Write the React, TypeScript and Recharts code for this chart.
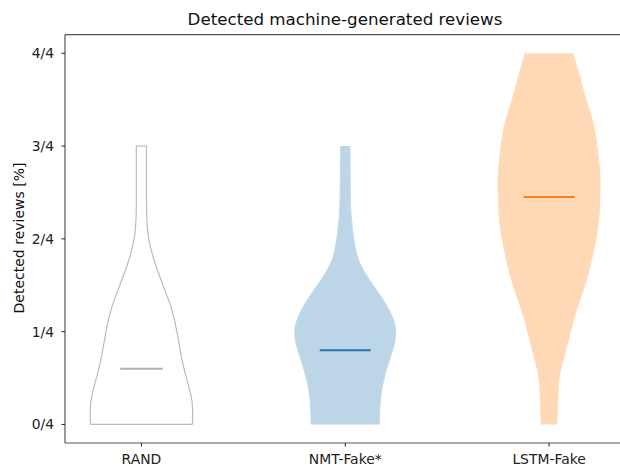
import {
  Area,
  ComposedChart,
  ReferenceLine,
  XAxis,
  YAxis,
} from "recharts";

// Violin categories and their x positions
const CATEGORIES = ["RAND", "NMT-Fake*", "LSTM-Fake"];
const POSITIONS = [1, 2, 3];

// y levels (in quarters) where the violin half-widths were read
const LEVELS = [0, 0.25, 0.5, 0.75, 1, 1.25, 1.5, 1.75, 2, 2.25, 2.5, 2.75, 3, 3.25, 3.5, 3.75, 4];

// half-width of each violin at every level, in x-axis units
const RAND_HALF = [0.25, 0.248, 0.221, 0.194, 0.174, 0.147, 0.106, 0.065, 0.036, 0.026, 0.025, 0.025, 0.025];
const NMT_HALF = [0.167, 0.172, 0.191, 0.225, 0.248, 0.211, 0.137, 0.069, 0.042, 0.029, 0.025, 0.024, 0.023];
const LSTM_HALF = [
  0.038, 0.043, 0.049, 0.076, 0.105, 0.137, 0.176, 0.206, 0.23, 0.245, 0.25, 0.248, 0.235, 0.216, 0.181,
  0.15, 0.117,
];

const MEDIANS = [0.6, 0.8, 2.45];
const MEDIAN_HALF = [0.104, 0.125, 0.125];

const Y_TICKS = [0, 1, 2, 3, 4];

const FONT = "'DejaVu Sans', sans-serif";
const AXIS = "#555";

const violin = (half: number[], pos: number) =>
  half.map((h, i) => ({ v: LEVELS[i], r: [pos - h, pos + h] }));

const randData = violin(RAND_HALF, POSITIONS[0]);
const nmtData = violin(NMT_HALF, POSITIONS[1]);
const lstmData = violin(LSTM_HALF, POSITIONS[2]);

// the outlined RAND violin needs its flat ends closed
const randCaps = [0, RAND_HALF.length - 1];

const MEDIAN_COLORS = ["#b0b0b0", "#1f77b4", "#ff7f0e"];

export default function App() {
  return (
    <div
      style={{
        position: "fixed",
        left: 0,
        top: 0,
        width: 620,
        height: 466,
        overflow: "hidden",
        background: "#fff",
        fontFamily: FONT,
      }}
    >
      <div
        style={{
          position: "absolute",
          left: 0,
          width: 690,
          top: 8.8,
          textAlign: "center",
          fontSize: 16.7,
          color: "#111",
          whiteSpace: "nowrap",
        }}
      >
        Detected machine-generated reviews
      </div>
      <div
        style={{
          position: "absolute",
          left: 18.5,
          top: 237.5,
          transform: "translate(-50%, -50%) rotate(-90deg)",
          whiteSpace: "nowrap",
          fontSize: 14,
          color: "#111",
        }}
      >
        Detected reviews [%]
      </div>
      <div style={{ position: "absolute", left: 0, top: 0 }}>
        <ComposedChart
          width={630}
          height={466}
          layout="vertical"
          margin={{ top: 34.7, right: 4.5, bottom: 0, left: 0 }}
        >
          <XAxis
            type="number"
            domain={[0.625, 3.375]}
            ticks={POSITIONS}
            tickFormatter={(x) => CATEGORIES[POSITIONS.indexOf(Number(x))] ?? ""}
            height={23}
            tickSize={3.5}
            tickMargin={8}
            axisLine={{ stroke: AXIS, strokeWidth: 1.2 }}
            tickLine={{ stroke: "#222" }}
            tick={{ fill: "#222", fontSize: 13.9, fontFamily: FONT }}
            allowDataOverflow
          />
          <YAxis
            type="number"
            dataKey="v"
            domain={[-0.2, 4.2]}
            ticks={Y_TICKS}
            reversed
            tickFormatter={(v) => `${v}/4`}
            width={65}
            tickSize={3.5}
            tickMargin={7.5}
            axisLine={{ stroke: AXIS, strokeWidth: 1.2 }}
            tickLine={{ stroke: "#222" }}
            tick={{ fill: "#222", fontSize: 13.9, fontFamily: FONT }}
            allowDataOverflow
          />
          <ReferenceLine y={4.2} stroke={AXIS} strokeWidth={1.2} />
          <Area
            data={randData}
            dataKey="r"
            type="natural"
            stroke="#bbbbbb"
            strokeWidth={1.2}
            fill="#ffffff"
            fillOpacity={1}
            dot={false}
            activeDot={false}
            isAnimationActive={false}
          />
          {randCaps.map((i) => (
            <ReferenceLine
              key={`cap-${i}`}
              segment={[
                { x: POSITIONS[0] - RAND_HALF[i], y: LEVELS[i] },
                { x: POSITIONS[0] + RAND_HALF[i], y: LEVELS[i] },
              ]}
              stroke="#bbbbbb"
              strokeWidth={1.2}
            />
          ))}
          <Area
            data={nmtData}
            dataKey="r"
            type="natural"
            stroke="#c3dbed"
            strokeWidth={1}
            fill="#bcd6e8"
            fillOpacity={1}
            dot={false}
            activeDot={false}
            isAnimationActive={false}
          />
          <Area
            data={lstmData}
            dataKey="r"
            type="natural"
            stroke="#ffdcbd"
            strokeWidth={1}
            fill="#ffd8b6"
            fillOpacity={1}
            dot={false}
            activeDot={false}
            isAnimationActive={false}
          />
          {MEDIANS.map((m, i) => (
            <ReferenceLine
              key={CATEGORIES[i]}
              segment={[
                { x: POSITIONS[i] - MEDIAN_HALF[i], y: m },
                { x: POSITIONS[i] + MEDIAN_HALF[i], y: m },
              ]}
              stroke={MEDIAN_COLORS[i]}
              strokeWidth={2}
            />
          ))}
        </ComposedChart>
      </div>
    </div>
  );
}
